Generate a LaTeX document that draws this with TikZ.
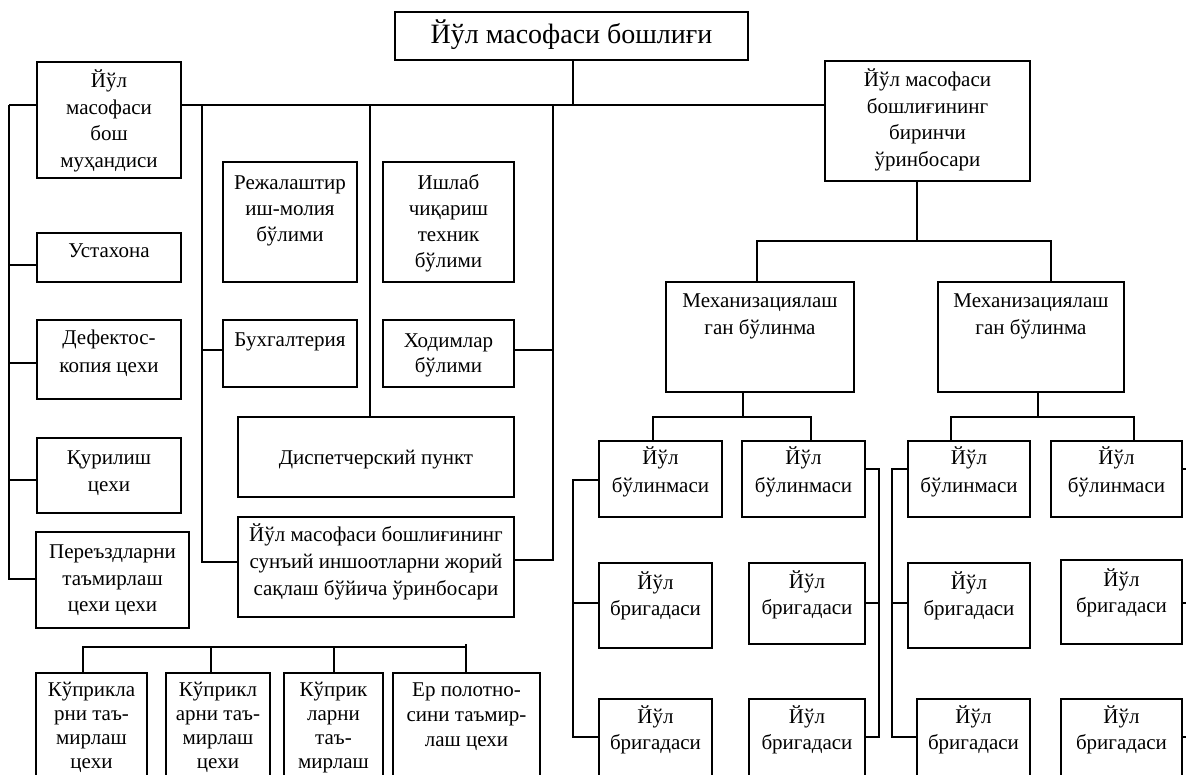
\documentclass[tikz,border=0pt]{standalone}
\usepackage{fontspec}
\setmainfont{Liberation Serif}
\usetikzlibrary{fit,calc}
\newcommand\mystrut{\rule{0pt}{1em}}
\newcommand\bx[8]{%
 \node[box, fit={(#2,#3)(#4,#5)}] (#1) {};
 \node[lbl,#7,anchor=north] (#1t) at ($(#1.north)+(0,{#6-#3-21})$) {\mystrut#8};}
\begin{document}
\begin{tikzpicture}[x=1pt,y=-1pt,
  box/.style={draw=black,line width=1.2pt,inner sep=0pt,rectangle},
  lbl/.style={inner sep=0pt,align=center,font=\fontsize{21}{26.5}\selectfont},
  sk24/.style={font=\fontsize{21}{24}\selectfont},
  sk25/.style={font=\fontsize{21}{25}\selectfont},
  sk26/.style={font=\fontsize{21}{26}\selectfont},
  sk27/.style={font=\fontsize{21}{27}\selectfont},
  sk28/.style={font=\fontsize{21}{28}\selectfont},
  conn/.style={draw=black,line width=1.2pt}]
\useasboundingbox (0,0) rectangle (1186,775);
\clip (0,0) rectangle (1186,775);
\fill[white] (0,0) rectangle (1186,775);
% title
\node[box, fit={(395,12)(748,60)}] (title) {};
\node[lbl,font=\fontsize{28}{32}\selectfont,anchor=north] (titlet) at ($(title.north)+(0,{44-12-28})$) {\mystrut Йўл масофаси бошлиғи};
% left part
\bx{ce}{37}{62}{181}{178}{88}{}{Йўл\\масофаси\\бош\\муҳандиси}
\bx{ust}{37}{233}{181}{282}{258}{}{Устахона}
\bx{def}{37}{320}{181}{399}{345}{sk28}{Дефектос-\\копия цехи}
\bx{qur}{37}{438}{181}{513}{465}{sk27}{Қурилиш\\цехи}
\bx{per}{36}{532}{189}{628}{559}{}{Переъздларни\\таъмирлаш\\цехи цехи}
\bx{rej}{223}{162}{357}{282}{190}{sk26}{Режалаштир\\иш-молия\\бўлими}
\bx{ish}{383}{162}{514}{282}{190}{sk26}{Ишлаб\\чиқариш\\техник\\бўлими}
\bx{bux}{223}{320}{357}{387}{347}{}{Бухгалтерия}
\bx{hod}{383}{320}{514}{387}{348}{sk25}{Ходимлар\\бўлими}
\bx{dis}{238}{417}{514}{497}{465}{}{Диспетчерский пункт}
\bx{dep}{238}{517}{514}{617}{542}{sk27}{Йўл масофаси бошлиғининг\\сунъий иншоотларни жорий\\сақлаш бўйича ўринбосари}
\bx{ka}{36}{673}{147}{800}{697}{sk24}{Кўприкла\\рни таъ-\\мирлаш\\цехи}
\bx{kb}{166}{673}{270}{800}{697}{sk24}{Кўприкл\\арни таъ-\\мирлаш\\цехи}
\bx{kc}{284}{673}{383}{800}{697}{sk24}{Кўприк\\ларни\\таъ-\\мирлаш}
\bx{er}{393}{673}{540}{800}{697}{sk25}{Ер полотно-\\сини таъмир-\\лаш цехи}
% right part
\bx{fd}{825}{61}{1030}{181}{87}{}{Йўл масофаси\\бошлиғининг\\биринчи\\ўринбосари}
\bx{mea}{666}{282}{854}{392}{308}{sk27}{Механизациялаш\\ган бўлинма}
\bx{meb}{938}{282}{1124}{392}{308}{sk27}{Механизациялаш\\ган бўлинма}
\bx{a1}{599}{441}{722}{517}{465}{sk28}{Йўл\\бўлинмаси}
\bx{b1}{742}{441}{865}{517}{465}{sk28}{Йўл\\бўлинмаси}
\bx{c1}{908}{441}{1030}{517}{465}{sk28}{Йўл\\бўлинмаси}
\bx{d1}{1051}{441}{1182}{517}{465}{sk28}{Йўл\\бўлинмаси}
\bx{a2}{599}{563}{712}{648}{590}{sk26}{Йўл\\бригадаси}
\bx{b2}{749}{563}{865}{644}{589}{sk26}{Йўл\\бригадаси}
\bx{c2}{908}{563}{1030}{648}{590}{sk26}{Йўл\\бригадаси}
\bx{d2}{1061}{560}{1182}{644}{587}{sk26}{Йўл\\бригадаси}
\bx{a3}{599}{699}{712}{800}{724}{sk26}{Йўл\\бригадаси}
\bx{b3}{749}{699}{865}{800}{724}{sk26}{Йўл\\бригадаси}
\bx{c3}{917}{699}{1030}{800}{724}{sk26}{Йўл\\бригадаси}
\bx{d3}{1061}{699}{1182}{800}{724}{sk26}{Йўл\\бригадаси}
% bus coordinates
\coordinate (mj) at (573,105);
\coordinate (l0) at (9,105);
\coordinate (l1) at (9,265);
\coordinate (l2) at (9,363);
\coordinate (l3) at (9,480);
\coordinate (l4) at (9,579);
\coordinate (v1t) at (202,105);
\coordinate (v1a) at (202,350);
\coordinate (v1b) at (202,562);
\coordinate (v2t) at (370,105);
\coordinate (v3t) at (553,105);
\coordinate (v3a) at (553,350);
\coordinate (v3b) at (553,560);
\coordinate (k1) at (83,647);
\coordinate (k2) at (211,647);
\coordinate (k3) at (334,647);
\coordinate (k4) at (466,647);
\coordinate (k4t) at (466,644);
\coordinate (r0) at (917,241);
\coordinate (r1) at (757,241);
\coordinate (r2) at (1051,241);
\coordinate (s0) at (743,417);
\coordinate (s1) at (653,417);
\coordinate (s2) at (811,417);
\coordinate (t0) at (1038,417);
\coordinate (t1) at (951,417);
\coordinate (t2) at (1134,417);
\coordinate (ab1) at (573,480);
\coordinate (ab2) at (573,603);
\coordinate (ab3) at (573,737);
\coordinate (bb1) at (879,469);
\coordinate (bb2) at (879,603);
\coordinate (bb3) at (879,737);
\coordinate (cb1) at (892,469);
\coordinate (cb2) at (892,603);
\coordinate (cb3) at (892,737);
\coordinate (db1) at (1192,469);
\coordinate (db2) at (1192,603);
\coordinate (db3) at (1192,737);
% main connectors
\draw[conn] (title.south -| mj) -- (mj);
\draw[conn] (l0) -- (ce.west |- l0);
\draw[conn] (ce.east |- l0) -- (fd.west |- l0);
\draw[conn] (l0) -- (l4) -- (per.west |- l4);
\draw[conn] (l1) -- (ust.west |- l1);
\draw[conn] (l2) -- (def.west |- l2);
\draw[conn] (l3) -- (qur.west |- l3);
\draw[conn] (v1t) -- (v1b) -- (dep.west |- v1b);
\draw[conn] (v1a) -- (bux.west |- v1a);
\draw[conn] (v2t) -- (dis.north -| v2t);
\draw[conn] (v3t) -- (v3b) -- (dep.east |- v3b);
\draw[conn] (v3a) -- (hod.east |- v3a);
\draw[conn] (ka.north -| k1) -- (k1) -- (k4) -- (er.north -| k4);
\draw[conn] (k4) -- (k4t);
\draw[conn] (kb.north -| k2) -- (k2);
\draw[conn] (kc.north -| k3) -- (k3);
% right connectors
\draw[conn] (fd.south -| r0) -- (r0);
\draw[conn] (mea.north -| r1) -- (r1) -- (r2) -- (meb.north -| r2);
\draw[conn] (mea.south -| s0) -- (s0);
\draw[conn] (a1.north -| s1) -- (s1) -- (s2) -- (b1.north -| s2);
\draw[conn] (meb.south -| t0) -- (t0);
\draw[conn] (c1.north -| t1) -- (t1) -- (t2) -- (d1.north -| t2);
\draw[conn] (a1.west |- ab1) -- (ab1) -- (ab3) -- (a3.west |- ab3);
\draw[conn] (a2.west |- ab2) -- (ab2);
\draw[conn] (b1.east |- bb1) -- (bb1) -- (bb3) -- (b3.east |- bb3);
\draw[conn] (b2.east |- bb2) -- (bb2);
\draw[conn] (c1.west |- cb1) -- (cb1) -- (cb3) -- (c3.west |- cb3);
\draw[conn] (c2.west |- cb2) -- (cb2);
\draw[conn] (d1.east |- db1) -- (db1) -- (db3) -- (d3.east |- db3);
\draw[conn] (d2.east |- db2) -- (db2);
\end{tikzpicture}
\end{document}
